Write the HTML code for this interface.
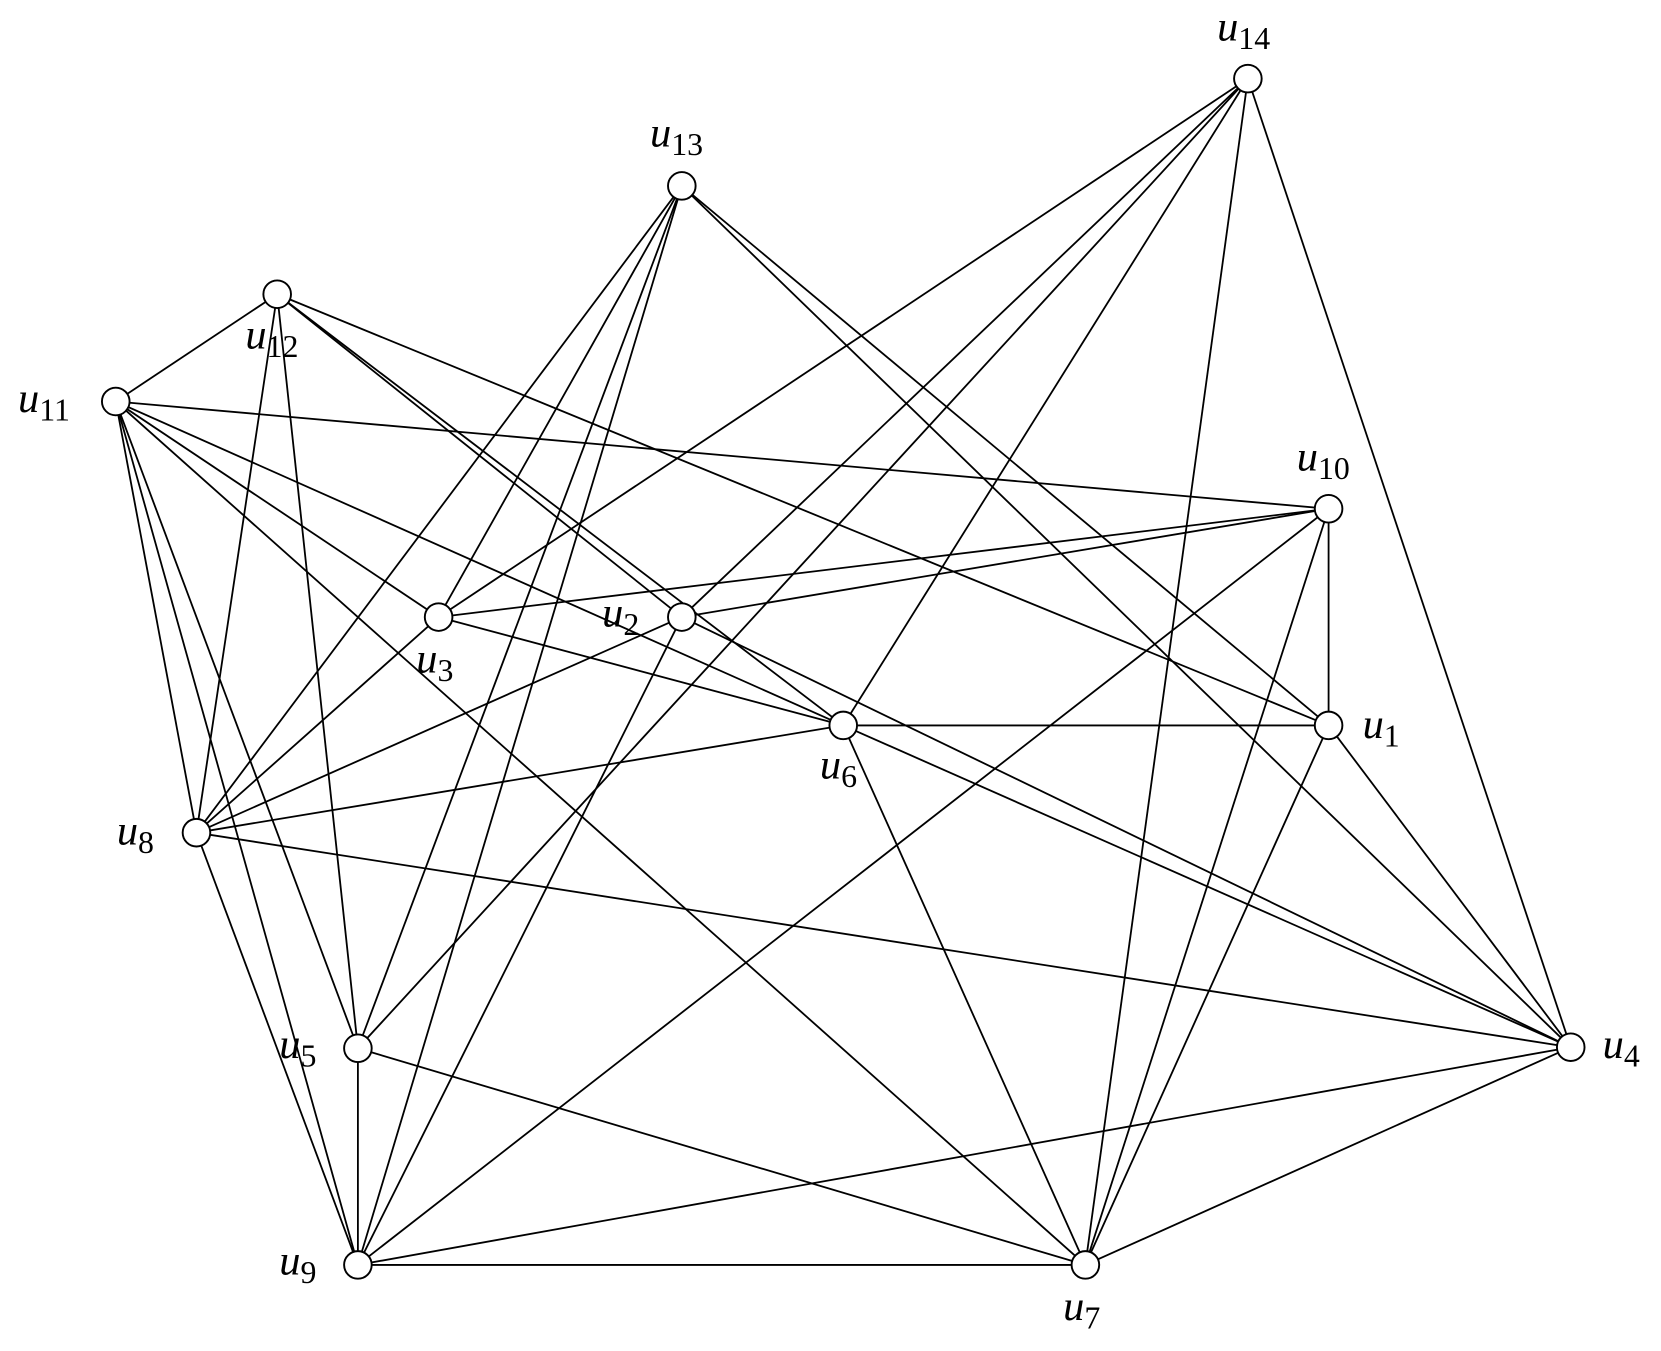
<!DOCTYPE html>
<html><head><meta charset="utf-8"><style>html,body{margin:0;padding:0;background:#fff}svg{display:block}</style></head><body>
<svg width="1661" height="1351" viewBox="0 0 1564 1272" xmlns="http://www.w3.org/2000/svg">
<g stroke="#000" stroke-width="1.7" fill="none">
<line x1="1251" y1="683" x2="1251" y2="479"/>
<line x1="1251" y1="683" x2="642" y2="175"/>
<line x1="1251" y1="683" x2="261" y2="277"/>
<line x1="1251" y1="683" x2="794" y2="683"/>
<line x1="1251" y1="683" x2="1022" y2="1191"/>
<line x1="1251" y1="683" x2="1479" y2="986"/>
<line x1="642" y1="581" x2="261" y2="277"/>
<line x1="642" y1="581" x2="1175" y2="74"/>
<line x1="642" y1="581" x2="1251" y2="479"/>
<line x1="642" y1="581" x2="185" y2="784"/>
<line x1="642" y1="581" x2="337" y2="1191"/>
<line x1="642" y1="581" x2="1479" y2="986"/>
<line x1="413" y1="581" x2="109" y2="378"/>
<line x1="413" y1="581" x2="642" y2="175"/>
<line x1="413" y1="581" x2="1175" y2="74"/>
<line x1="413" y1="581" x2="1251" y2="479"/>
<line x1="413" y1="581" x2="794" y2="683"/>
<line x1="413" y1="581" x2="185" y2="784"/>
<line x1="1479" y1="986" x2="1175" y2="74"/>
<line x1="1479" y1="986" x2="642" y2="175"/>
<line x1="1479" y1="986" x2="794" y2="683"/>
<line x1="1479" y1="986" x2="185" y2="784"/>
<line x1="1479" y1="986" x2="337" y2="1191"/>
<line x1="1479" y1="986" x2="1022" y2="1191"/>
<line x1="337" y1="987" x2="109" y2="378"/>
<line x1="337" y1="987" x2="261" y2="277"/>
<line x1="337" y1="987" x2="642" y2="175"/>
<line x1="337" y1="987" x2="1175" y2="74"/>
<line x1="337" y1="987" x2="337" y2="1191"/>
<line x1="337" y1="987" x2="1022" y2="1191"/>
<line x1="794" y1="683" x2="261" y2="277"/>
<line x1="794" y1="683" x2="109" y2="378"/>
<line x1="794" y1="683" x2="185" y2="784"/>
<line x1="794" y1="683" x2="1022" y2="1191"/>
<line x1="794" y1="683" x2="1175" y2="74"/>
<line x1="1022" y1="1191" x2="109" y2="378"/>
<line x1="1022" y1="1191" x2="337" y2="1191"/>
<line x1="1022" y1="1191" x2="1175" y2="74"/>
<line x1="1022" y1="1191" x2="1251" y2="479"/>
<line x1="185" y1="784" x2="109" y2="378"/>
<line x1="185" y1="784" x2="261" y2="277"/>
<line x1="185" y1="784" x2="642" y2="175"/>
<line x1="185" y1="784" x2="337" y2="1191"/>
<line x1="337" y1="1191" x2="109" y2="378"/>
<line x1="337" y1="1191" x2="642" y2="175"/>
<line x1="337" y1="1191" x2="1251" y2="479"/>
<line x1="1251" y1="479" x2="109" y2="378"/>
<line x1="109" y1="378" x2="261" y2="277"/>
</g>
<g stroke="#000" stroke-width="1.8" fill="#fff">
<circle cx="1251" cy="683" r="13"/><circle cx="642" cy="581" r="13"/><circle cx="413" cy="581" r="13"/>
<circle cx="1479" cy="986" r="13"/><circle cx="337" cy="987" r="13"/><circle cx="794" cy="683" r="13"/>
<circle cx="1022" cy="1191" r="13"/><circle cx="185" cy="784" r="13"/><circle cx="337" cy="1191" r="13"/>
<circle cx="1251" cy="479" r="13"/><circle cx="109" cy="378" r="13"/><circle cx="261" cy="277" r="13"/>
<circle cx="642" cy="175" r="13"/><circle cx="1175" cy="74" r="13"/>
</g>
<g font-family="Liberation Serif, serif" font-size="40" font-style="italic" fill="#000">
<text x="1283" y="695">u<tspan font-style="normal" font-size="30" dy="8">1</tspan></text>
<text x="567" y="590">u<tspan font-style="normal" font-size="30" dy="8">2</tspan></text>
<text x="392" y="633">u<tspan font-style="normal" font-size="30" dy="8">3</tspan></text>
<text x="1509" y="996">u<tspan font-style="normal" font-size="30" dy="8">4</tspan></text>
<text x="263" y="996">u<tspan font-style="normal" font-size="30" dy="8">5</tspan></text>
<text x="772" y="733">u<tspan font-style="normal" font-size="30" dy="8">6</tspan></text>
<text x="1001" y="1243">u<tspan font-style="normal" font-size="30" dy="8">7</tspan></text>
<text x="110" y="795">u<tspan font-style="normal" font-size="30" dy="8">8</tspan></text>
<text x="263" y="1200">u<tspan font-style="normal" font-size="30" dy="8">9</tspan></text>
<text x="1221" y="443">u<tspan font-style="normal" font-size="30" dy="8">10</tspan></text>
<text x="17" y="388">u<tspan font-style="normal" font-size="30" dy="8">11</tspan></text>
<text x="231" y="328">u<tspan font-style="normal" font-size="30" dy="8">12</tspan></text>
<text x="612" y="138">u<tspan font-style="normal" font-size="30" dy="8">13</tspan></text>
<text x="1146" y="38">u<tspan font-style="normal" font-size="30" dy="8">14</tspan></text>
</g>
</svg>
</body></html>
